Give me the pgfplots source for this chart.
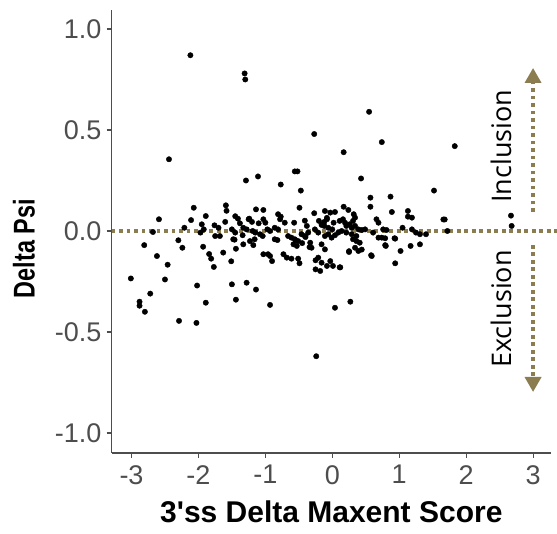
\documentclass[border=0pt]{standalone}
\usepackage{pgfplots}
\pgfplotsset{compat=1.18}
\usepackage{pgfplotstable}
\usepackage{fontspec}
\setmainfont{Liberation Sans}
\newfontfamily\labfont{Liberation Sans}
\newfontfamily\osans{Open Sans}
\usetikzlibrary{arrows.meta}
\definecolor{arrowcol}{RGB}{139,125,80}
\definecolor{axgray}{RGB}{77,77,77}
\pgfplotstableread{
x y
-2.12 0.87
-1.31 0.78
-1.30 0.75
0.55 0.59
-0.27 0.48
0.74 0.44
1.83 0.42
0.17 0.39
-2.44 0.355
-0.56 0.295
-0.52 0.295
-1.11 0.27
-1.29 0.25
0.43 0.26
-0.77 0.23
1.52 0.20
-0.47 0.20
0.57 0.165
0.87 0.17
-2.07 0.115
-1.59 0.127
-1.58 0.10
-0.49 0.115
0.57 0.12
0.17 0.12
-2.59 0.058
-2.11 0.054
-1.89 0.074
-1.45 0.073
-1.14 0.107
-1.03 0.104
-0.27 0.088
0.89 0.094
1.13 0.099
1.13 0.071
1.19 0.066
1.68 0.057
1.66 0.057
2.67 0.076
2.68 0.025
1.72 0.0
-2.68 -0.005
-2.81 -0.07
-3.01 -0.235
-2.88 -0.35
-2.88 -0.37
-2.80 -0.40
-2.72 -0.31
-2.62 -0.124
-2.46 -0.167
-2.50 -0.24
-2.29 -0.445
-2.03 -0.455
-2.02 -0.27
-1.89 -0.355
-2.30 -0.046
-2.24 -0.083
-2.21 0.016
-1.93 -0.078
-1.84 -0.114
-1.81 -0.137
-1.77 -0.178
-1.63 -0.107
-1.51 -0.15
-1.50 -0.264
-1.44 -0.34
-1.28 -0.256
-1.14 -0.29
-0.93 -0.366
-1.44 -0.088
-1.46 -0.043
-1.33 -0.066
-1.18 -0.07
-1.03 -0.115
-0.96 -0.115
-0.93 -0.124
-0.90 -0.149
-0.73 -0.115
-0.68 -0.132
-0.61 -0.137
-0.51 -0.137
-0.49 -0.16
-0.34 -0.08
-0.25 -0.145
-0.21 -0.132
-0.16 -0.157
-0.08 -0.173
-0.03 -0.149
0.01 -0.173
-0.25 -0.19
-0.18 -0.198
0.11 -0.18
-0.24 -0.62
0.04 -0.38
0.27 -0.35
0.25 -0.10
0.58 -0.12
0.94 -0.16
1.02 -0.099
1.17 -0.074
1.31 -0.066
1.40 -0.016
0.79 -0.07
0.93 -0.036
-1.95 0.033
-1.97 -0.008
-1.92 0.008
-1.76 0.028
-1.70 0.016
-1.60 0.045
-1.75 -0.025
-1.68 -0.025
-1.41 0.061
-1.38 0.038
-1.50 0.008
-1.45 -0.008
-1.33 0.016
-1.28 0.008
-1.25 0.058
-1.48 -0.041
-1.34 -0.021
-1.24 0.061
-1.20 0.045
-1.10 0.038
-1.03 0.058
-1.00 0.041
-0.81 0.083
-0.77 0.071
-0.78 0.058
-0.71 0.041
-0.57 0.041
-0.41 0.051
-0.11 0.099
-0.03 0.091
0.04 0.094
-0.08 0.058
0.02 0.041
0.11 0.05
-1.19 0.0
-1.15 -0.008
-1.08 -0.016
-1.04 -0.025
-0.97 0.008
-0.93 0.0
-1.23 -0.05
-1.16 -0.041
-0.86 -0.041
-0.82 -0.045
-0.66 -0.025
-0.61 -0.033
-0.56 -0.041
-0.51 -0.05
-0.58 -0.066
-0.53 -0.074
-0.46 -0.016
-0.41 -0.025
-0.36 -0.008
-0.33 -0.058
-0.31 -0.083
-0.26 0.008
-0.21 -0.008
-0.15 0.033
-0.12 0.025
-0.06 0.016
0.00 0.008
-0.11 -0.025
-0.06 -0.016
-0.01 -0.033
0.04 -0.021
0.09 -0.008
0.14 0.0
-0.16 -0.066
-0.11 -0.091
-0.86 0.016
-0.81 0.008
0.24 0.104
0.32 0.083
0.34 0.066
0.31 0.05
0.16 0.058
0.19 0.041
0.21 0.025
0.26 0.033
0.29 0.016
0.34 0.025
0.39 0.008
0.44 0.005
0.49 0.008
0.21 -0.008
0.29 -0.016
0.36 -0.025
0.31 -0.041
0.36 -0.05
0.41 -0.058
0.34 -0.083
0.39 -0.099
0.25 -0.104
0.44 -0.092
0.66 0.058
0.69 0.041
0.61 -0.008
0.76 0.008
0.81 0.005
0.69 -0.033
0.74 -0.033
0.79 -0.036
0.94 -0.038
0.80 -0.074
1.05 0.016
1.19 0.008
1.25 -0.008
1.31 -0.016
0.59 -0.124
0.12 -0.18
-0.55 -0.045
-0.45 -0.06
-0.40 -0.03
-0.38 0.025
-0.20 0.05
-0.16 0.03
-0.12 0.045
-0.08 0.065
}\pts
\begin{document}
\begin{tikzpicture}
\useasboundingbox (-111.7pt,-81pt) rectangle (445.3pt,453pt);
\begin{axis}[
  scale only axis, width=439.3pt, height=443pt,
  xmin=-3.296, xmax=3.268, ymin=-1.099, ymax=1.094,
  axis lines=left,
  axis line style={axgray, line width=1.1pt, -},
  xtick={-3,-2,-1,0,1,2,3}, xticklabels={-3,-2,-1,0,1,2,3},
  ytick={-1,-0.5,0,0.5,1}, yticklabels={-1.0,-0.5,0.0,0.5,1.0},
  tick align=outside, major tick length=5pt,
  tick style={axgray, line width=1.1pt},
  ticklabel style={font=\fontsize{27}{27}\selectfont, text=axgray, inner sep=0pt},
  xticklabel style={anchor=north, yshift=-7pt},
  yticklabel style={anchor=east, xshift=-5pt},
  xlabel={3'ss Delta Maxent Score}, ylabel={Delta Psi},
  xlabel style={font=\labfont\bfseries\fontsize{30}{30}\selectfont, at={(axis description cs:0.5,-0.158)}, anchor=base, inner sep=0pt},
  ylabel style={font=\labfont\bfseries\fontsize{30}{30}\selectfont, at={(axis description cs:-0.2,0.461)}, anchor=center, inner sep=0pt, xscale=0.78},
  clip=false,
]
\addplot[only marks, mark=*, mark size=2.7pt, mark options={fill=black, draw=none}] table[x=x,y=y] {\pts};
\draw[arrowcol, line width=3.6pt, dash pattern=on 3.8pt off 3.7pt] (axis cs:-3.296,0) -- (axis cs:3.357,0);
\draw[arrowcol, line width=3.6pt, dash pattern=on 3.8pt off 3.7pt, -{Triangle[width=16pt,length=15pt]}] (axis cs:3,0.094) -- (axis cs:3,0.807);
\draw[arrowcol, line width=3.6pt, dash pattern=on 3.8pt off 3.7pt, -{Triangle[width=16pt,length=15pt]}] (axis cs:3,-0.069) -- (axis cs:3,-0.797);
\node[rotate=90, anchor=center, inner sep=0pt, font=\osans\fontsize{27}{27}\selectfont] at (axis cs:2.52,0.42) {Inclusion};
\node[rotate=90, anchor=center, inner sep=0pt, font=\osans\fontsize{27}{27}\selectfont] at (axis cs:2.52,-0.386) {Exclusion};
\end{axis}
\end{tikzpicture}
\end{document}
